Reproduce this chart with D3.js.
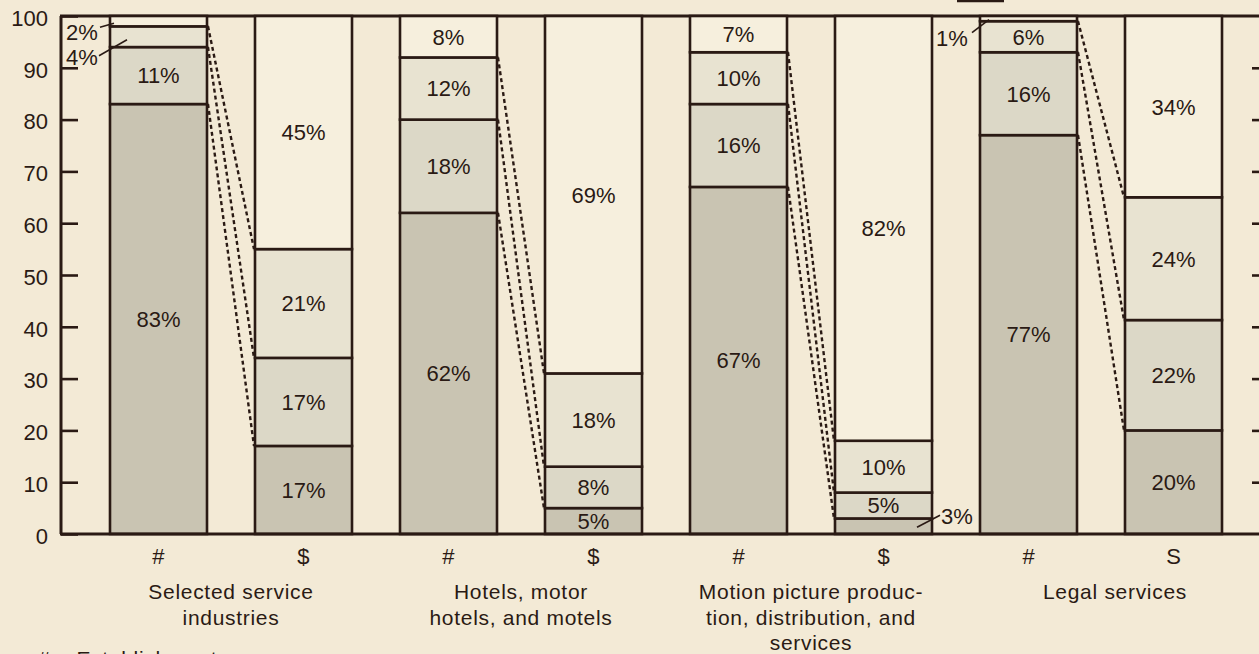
<!DOCTYPE html>
<html>
<head>
<meta charset="utf-8">
<script src="https://cdn.jsdelivr.net/npm/d3@7"></script>
<style>
  html, body { margin: 0; padding: 0; background: #f3ead6; }
  svg { display: block; }
  text { font-family: "Liberation Sans", Arial, sans-serif; fill: #2a1a14; }
</style>
</head>
<body>
<svg id="chart" width="1259" height="654"></svg>
<script>
// ---------- data ----------
const categories = ["Selected service industries", "Hotels, motor hotels, and motels",
  "Motion picture production, distribution, and services", "Legal services"];
const categoryLines = [
  ["Selected service", "industries"],
  ["Hotels, motor", "hotels, and motels"],
  ["Motion picture produc-", "tion, distribution, and", "services"],
  ["Legal services"]
];
const barSymbols = [["#", "$"], ["#", "$"], ["#", "$"], ["#", "S"]];
// share of establishments (#), size classes bottom -> top
const establishments = [
  [83, 11, 4, 2],
  [62, 18, 12, 8],
  [67, 16, 10, 7],
  [77, 16, 6, 1]
];
const establishmentLabels = [
  ["83%", "11%", "4%", "2%"],
  ["62%", "18%", "12%", "8%"],
  ["67%", "16%", "10%", "7%"],
  ["77%", "16%", "6%", "1%"]
];
// share of receipts ($), size classes bottom -> top (heights as drawn)
const receipts = [
  [17, 17, 21, 45],
  [5, 8, 18, 69],
  [3, 5, 10, 82],
  [20, 21.3, 23.7, 35]
];
const receiptLabels = [
  ["17%", "17%", "21%", "45%"],
  ["5%", "8%", "18%", "69%"],
  ["3%", "5%", "10%", "82%"],
  ["20%", "22%", "24%", "34%"]
];
const yTicks = [0, 10, 20, 30, 40, 50, 60, 70, 80, 90, 100];
const legendText = "# = Establishments";

// ---------- drawing ----------
const svg = d3.select("#chart");
const ink = "#2a1a14";
const segColors = ["#c9c4b2", "#dcd8c7", "#e8e3d1", "#f6efdd"];

const bars = [];
categories.forEach((c, gi) => {
  bars.push({ key: gi + "#", g: gi, kind: 0, sym: barSymbols[gi][0], vals: establishments[gi], labels: establishmentLabels[gi] });
  bars.push({ key: gi + "$", g: gi, kind: 1, sym: barSymbols[gi][1], vals: receipts[gi], labels: receiptLabels[gi] });
});

const x = d3.scaleBand().domain(bars.map(b => b.key)).range([62, 1270]).paddingInner(0.331).paddingOuter(0.331);
const y = d3.scaleLinear().domain([0, 100]).range([534, 16]);

bars.forEach(b => {
  let cum = 0;
  b.segs = b.vals.map((v, i) => { const s = { i, y0: cum, y1: cum + v, v, label: b.labels[i] }; cum += v; return s; });
});

// frame top line
svg.append("line").attr("x1", 60).attr("x2", 1259).attr("y1", y(100)).attr("y2", y(100))
  .attr("stroke", ink).attr("stroke-width", 3);

// bars
const barG = svg.append("g");
bars.forEach(b => {
  const g = barG.append("g");
  g.selectAll("rect").data(b.segs).join("rect")
    .attr("x", x(b.key)).attr("width", x.bandwidth())
    .attr("y", d => y(d.y1)).attr("height", d => y(d.y0) - y(d.y1))
    .attr("fill", d => segColors[d.i])
    .attr("stroke", ink).attr("stroke-width", 2.6);
});

// dashed connectors between # and $ bars
categories.forEach((c, gi) => {
  const bh = bars[gi * 2], bd = bars[gi * 2 + 1];
  for (let k = 0; k < 3; k++) {
    svg.append("line")
      .attr("x1", x(bh.key) + x.bandwidth() + 1).attr("y1", y(bh.segs[k].y1))
      .attr("x2", x(bd.key) - 1).attr("y2", y(bd.segs[k].y1))
      .attr("stroke", ink).attr("stroke-width", 2.4).attr("stroke-dasharray", "4,3");
  }
});

// axes
svg.append("line").attr("x1", 60).attr("x2", 1259).attr("y1", y(0)).attr("y2", y(0))
  .attr("stroke", ink).attr("stroke-width", 3);
const yAxis = d3.axisLeft(y).tickValues(yTicks).tickSize(-17).tickPadding(13).tickFormat(d3.format("d"));
const ya = svg.append("g").attr("transform", "translate(61,0)").call(yAxis);
ya.select(".domain").attr("stroke", ink).attr("stroke-width", 3).attr("d", `M0,${y(0)}V${y(100)}`);
ya.selectAll(".tick line").attr("stroke", ink).attr("stroke-width", 2.6);
ya.selectAll(".tick text").attr("font-size", 22).attr("fill", ink).attr("dy", "0.42em")
  .style("font-family", '"Liberation Sans", Arial, sans-serif');
const yAxisR = d3.axisRight(y).tickValues(yTicks.filter(t => t > 0 && t < 100)).tickSize(-14).tickFormat("");
const yr = svg.append("g").attr("transform", "translate(1266,0)").call(yAxisR);
yr.select(".domain").remove();
yr.selectAll(".tick line").attr("stroke", ink).attr("stroke-width", 2.6);

// segment labels
const labG = svg.append("g").attr("font-size", 22);
bars.forEach(b => {
  b.segs.forEach(s => {
    const cx = x(b.key) + x.bandwidth() / 2;
    const cy = (y(s.y0) + y(s.y1)) / 2;
    if (s.v >= 5) {
      labG.append("text").attr("x", cx).attr("y", cy).attr("dy", "0.36em")
        .attr("text-anchor", "middle").text(s.label);
    }
  });
});

// small values labelled outside with leader lines
const outside = [];
bars.forEach(b => b.segs.forEach(s => { if (s.v < 5) outside.push({ b, s }); }));
const outsideTweaks = {
  "0#3": { lx: -28, ly: 11, p1: [-10, 6], p2: [4, 2] },
  "0#2": { lx: -28, ly: 20, p1: [-11, 19], p2: [17, 3] },
  "3#3": { lx: -28, ly: 19, p1: [-8, 14], p2: [9, 1] },
  "2$0": { lx: 25, ly: -10, p1: [-15, 1], p2: [8, -11] }
};
outside.forEach(({ b, s }) => {
  const t = outsideTweaks[b.key + s.i];
  if (!t) return;
  const edge = b.kind === 0 ? x(b.key) : x(b.key) + x.bandwidth();
  const mid = (y(s.y0) + y(s.y1)) / 2;
  labG.append("text").attr("x", edge + t.lx).attr("y", mid + t.ly).attr("dy", "0.36em")
    .attr("text-anchor", "middle").text(s.label);
  svg.append("line")
    .attr("x1", edge + t.p1[0]).attr("y1", mid + t.p1[1])
    .attr("x2", edge + t.p2[0]).attr("y2", mid + t.p2[1])
    .attr("stroke", ink).attr("stroke-width", 1.6);
});

// bar symbols
bars.forEach(b => {
  svg.append("text").attr("x", x(b.key) + x.bandwidth() / 2).attr("y", 564)
    .attr("text-anchor", "middle").attr("font-size", 22).text(b.sym);
});

// category labels
const catShift = [0, 0, 0, 14];
categoryLines.forEach((lines, gi) => {
  const cx = (x(bars[gi * 2].key) + x(bars[gi * 2 + 1].key)) / 2 + x.bandwidth() / 2 + catShift[gi];
  const t = svg.append("text").attr("text-anchor", "middle").attr("font-size", 21)
    .style("letter-spacing", "0.7px");
  lines.forEach((ln, li) => {
    t.append("tspan").attr("x", cx).attr("y", 599 + li * 25.5).text(ln);
  });
});

// legend (cut at the bottom edge)
svg.append("text").attr("x", 38).attr("y", 666).attr("font-size", 21)
  .style("letter-spacing", "0.7px").text(legendText);

// fragment of a box at the top edge
svg.append("line").attr("x1", 957).attr("x2", 1004).attr("y1", 1).attr("y2", 1)
  .attr("stroke", ink).attr("stroke-width", 2.5);
</script>
</body>
</html>
